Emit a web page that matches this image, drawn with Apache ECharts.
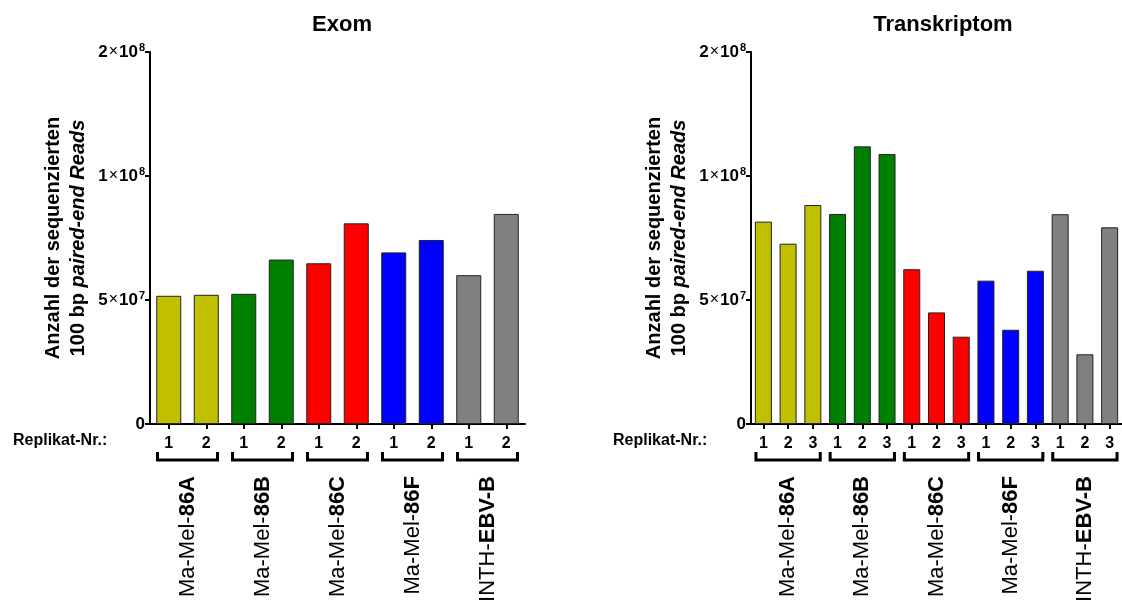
<!DOCTYPE html>
<html>
<head>
<meta charset="utf-8">
<script src="https://cdn.jsdelivr.net/npm/echarts@6/dist/echarts.min.js"></script>
<style>
html,body{margin:0;padding:0;background:#fff;}
#c{width:1122px;height:608px;}
</style>
</head>
<body>
<div id="c"></div>
<script>
// ---------- data ----------
const groupPrefixes = ['Ma-Mel-', 'Ma-Mel-', 'Ma-Mel-', 'Ma-Mel-', 'INTH-'];
const groupNames = ['86A', '86B', '86C', '86F', 'EBV-B'];
const exomReplicates = ['1', '2'];
const transReplicates = ['1', '2', '3'];
const exomValues = [51.7e6, 52.1e6, 52.5e6, 66.3e6, 64.8e6, 80.9e6, 69.2e6, 74.2e6, 60.0e6, 84.7e6];
const transValues = [81.6e6, 72.7e6, 88.3e6, 84.7e6, 123.9e6, 117.7e6, 62.4e6, 45.0e6, 35.2e6, 57.8e6, 38.0e6, 61.8e6, 84.6e6, 28.1e6, 79.3e6];
const yTicks = [0, 5e7, 1e8, 2e8];
const chartTitles = ['Exom', 'Transkriptom'];
const yAxisTitle = 'Anzahl der sequenzierten\n100 bp {it|paired-end Reads}';
const replikatLabel = 'Replikat-Nr.:';

// ---------- styles ----------
const FONT = 'Liberation Sans, Arial, sans-serif';
const groupColors = ['#c0c000', '#008000', '#ff0000', '#0000ff', '#808080'];

const chart = echarts.init(document.getElementById('c'), null, {renderer: 'canvas'});

function catLabels(reps) {
  const out = [];
  groupNames.forEach(() => reps.forEach(r => out.push(r)));
  return out;
}

function yAxisFor(gridIndex) {
  return {
    type: 'value', gridIndex, min: 0, max: 2e8, interval: 5e7, position: 'left',
    breaks: [{start: 1e8, end: 2e8, gap: 5e7}],
    breakArea: {show: false, itemStyle: {opacity: 0, borderWidth: 0}, zigzagAmplitude: 0, expandOnClick: false},
    name: yAxisTitle, nameLocation: 'middle', nameGap: 59, nameRotate: 90,
    nameTextStyle: {fontFamily: FONT, fontSize: 20, fontWeight: 'bold', color: '#000', lineHeight: 25,
      rich: {it: {fontFamily: FONT, fontSize: 20, fontWeight: 'bold', fontStyle: 'italic', color: '#000', lineHeight: 25}}},
    axisLine: {show: true, lineStyle: {color: '#000', width: 2}},
    axisTick: {show: true, length: 5, lineStyle: {color: '#000', width: 2}},
    splitLine: {show: false},
    axisLabel: {
      margin: 5, color: '#000',
      formatter: v => {
        if (yTicks.indexOf(v) < 0) return '';
        if (v === 0) return '{m|0}';
        const e = Math.floor(Math.log10(v));
        const m = Math.round(v / Math.pow(10, e));
        return '{m|' + m + '}{x|×}{m|10}{e|' + e + '}';
      },
      rich: {
        m: {fontFamily: FONT, fontSize: 17, fontWeight: 'bold', color: '#000'},
        x: {fontFamily: FONT, fontSize: 16, color: '#000', padding: [0, 1, 0, 1]},
        e: {fontFamily: FONT, fontSize: 11, fontWeight: 'bold', color: '#000', verticalAlign: 'bottom', padding: [0, 0, 8, 1]}
      }
    }
  };
}

// plain axis line over the full height (the break hides the line in the compressed part)
function yLineAxisFor(gridIndex) {
  return {
    type: 'value', gridIndex, min: 0, max: 2e8, position: 'left', offset: 0,
    axisLine: {show: true, lineStyle: {color: '#000', width: 2}},
    axisTick: {show: false}, axisLabel: {show: false}, splitLine: {show: false}
  };
}

function xAxesFor(gridIndex, reps) {
  return [{
    type: 'category', gridIndex, data: catLabels(reps), position: 'bottom',
    axisLine: {show: true, lineStyle: {color: '#000', width: 2}},
    axisTick: {show: true, alignWithLabel: true, length: 5, lineStyle: {color: '#000', width: 2}},
    axisLabel: {interval: 0, margin: 12, fontFamily: FONT, fontSize: 16, fontWeight: 'bold', color: '#000'}
  }, {
    type: 'category', gridIndex, data: groupNames.map((g, i) => i), position: 'bottom',
    axisLine: {show: false}, axisTick: {show: false}, splitLine: {show: false},
    axisLabel: {
      interval: 0, rotate: 90, margin: 52, color: '#000',
      formatter: (v, i) => '{n|' + groupPrefixes[i] + '}{b|' + groupNames[i] + '}',
      rich: {
        n: {fontFamily: FONT, fontSize: 22, color: '#000'},
        b: {fontFamily: FONT, fontSize: 22, fontWeight: 'bold', color: '#000'}
      }
    }
  }];
}

function barSeries(xIdx, yIdx, values, reps, barW) {
  return {
    type: 'bar', xAxisIndex: xIdx, yAxisIndex: yIdx, data: values, barWidth: barW,
    itemStyle: {
      color: p => groupColors[Math.floor(p.dataIndex / reps.length)],
      borderColor: '#222', borderWidth: 1
    },
    silent: true
  };
}

function bracketSeries(xIdx, yIdx, reps) {
  return {
    type: 'custom', xAxisIndex: xIdx, yAxisIndex: yIdx, silent: true, clip: false,
    data: groupNames.map((g, i) => [i * reps.length, 0]),
    encode: {x: 0, y: 1},
    renderItem: (params, api) => {
      const first = api.value(0);
      const last = first + reps.length - 1;
      const p1 = api.coord([first, 0]);
      const p2 = api.coord([last, 0]);
      const w = api.size([1, 0])[0];
      const x1 = p1[0] - 0.3 * w, x2 = p2[0] + 0.3 * w;
      const y = p1[1];
      return {
        type: 'polyline',
        shape: {points: [[x1, y + 28], [x1, y + 36], [x2, y + 36], [x2, y + 28]]},
        style: {stroke: '#000', lineWidth: 3, fill: null}
      };
    }
  };
}

const xA = xAxesFor(0, exomReplicates);
const xB = xAxesFor(1, transReplicates);

chart.setOption({
  animation: false,
  title: [
    {text: chartTitles[0], left: 337, top: 9, textAlign: 'center', textStyle: {fontFamily: FONT, fontSize: 22, fontWeight: 'bold', color: '#000'}},
    {text: chartTitles[1], left: 938, top: 9, textAlign: 'center', textStyle: {fontFamily: FONT, fontSize: 22, fontWeight: 'bold', color: '#000'}}
  ],
  grid: [
    {left: 150, width: 375, top: 52, bottom: 184, containLabel: false},
    {left: 751, width: 375, top: 52, bottom: 184, containLabel: false}
  ],
  xAxis: [xA[0], xA[1], xB[0], xB[1]],
  yAxis: [yAxisFor(0), yAxisFor(1), yLineAxisFor(0), yLineAxisFor(1)],
  graphic: [
    {type: 'text', left: 13, top: 433, style: {text: replikatLabel, font: 'bold 16px ' + FONT, fill: '#000'}},
    {type: 'text', left: 613, top: 433, style: {text: replikatLabel, font: 'bold 16px ' + FONT, fill: '#000'}}
  ],
  series: [
    barSeries(0, 0, exomValues, exomReplicates, 25),
    bracketSeries(0, 0, exomReplicates),
    barSeries(2, 1, transValues, transReplicates, 17),
    bracketSeries(2, 1, transReplicates)
  ]
});
</script>
</body>
</html>
